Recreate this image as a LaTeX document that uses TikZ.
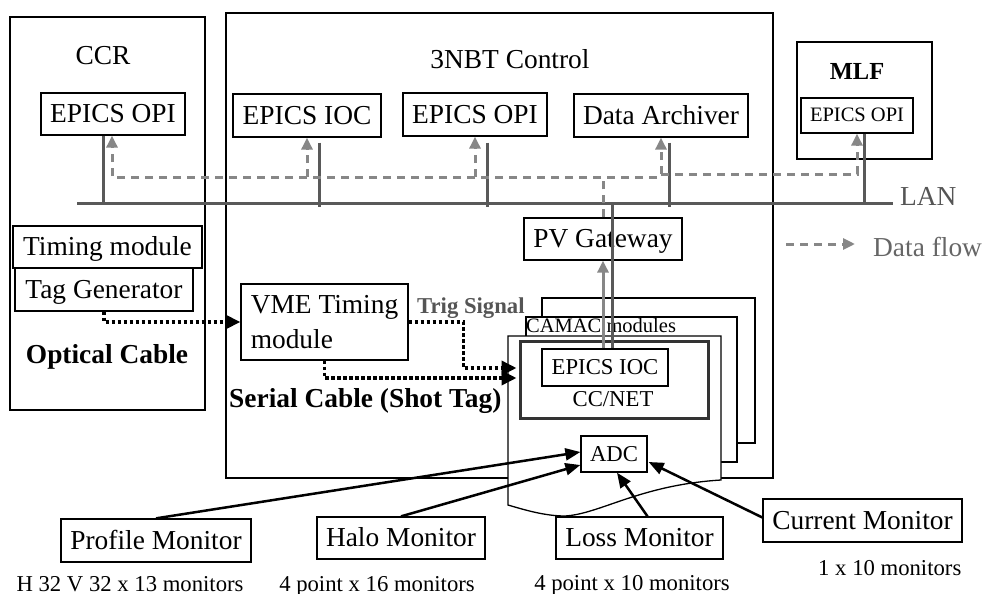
\documentclass[tikz,border=0pt]{standalone}
\usepackage{fontspec}
\setmainfont{Liberation Serif}
\usetikzlibrary{arrows.meta,calc}
\definecolor{wire}{HTML}{595959}
\definecolor{flowgray}{HTML}{878787}
\definecolor{labelgray}{HTML}{555555}
\newcommand\fbig{\fontsize{27.4pt}{33pt}\selectfont}
\newcommand\fmid{\fontsize{22.7pt}{27pt}\selectfont}
\newcommand\fsml{\fontsize{20.5pt}{24pt}\selectfont}
\newcommand\fmlf{\fontsize{24.5pt}{29pt}\selectfont}

\begin{document}
\begin{tikzpicture}[x=1pt,y=-1pt,
  frame/.style={draw, line width=1.3pt, inner sep=0pt},
  plainbox/.style={draw, line width=1.3pt, fill=white, inner sep=0pt, font=\fbig},
  box/.style={plainbox, text height=18pt, text depth=1pt},
  wireline/.style={draw=wire, line width=3pt},
  flow/.style={draw=flowgray, line width=3pt, dash pattern=on 8pt off 6pt},
  flowtip/.style={-{Triangle[length=12pt,width=11pt]}},
  cable/.style={draw=black, line width=3.5pt, dash pattern=on 3.5pt off 2.5pt,
    -{Triangle[length=15pt,width=14pt]}},
  feed/.style={draw=black, line width=2.5pt, -{Triangle[length=15pt,width=12pt]}},
  lbl/.style={inner sep=0pt, anchor=base}
]
\useasboundingbox (0,0) rectangle (985,594);

% rooms
\node[frame, minimum width=195pt, minimum height=393pt] (ccr) at (107.5,213.5) {};
\node[frame, minimum width=547pt, minimum height=465pt] (nbt) at (499.5,245.5) {};
\node[frame, minimum width=135pt, minimum height=117pt] (mlf) at (864.5,100.5) {};
\node[lbl, font=\fbig] (ccrT) at (103,64) {CCR};
\node[lbl, font=\fbig] (nbtT) at (510,68) {3NBT Control};
\node[lbl, font=\fmlf\bfseries] (mlfT) at (857,80) {MLF};

% LAN backbone
\coordinate (lanL) at (77,203);
\coordinate (lanR) at (893,203);
\draw[wireline] (lanL) -- (lanR);
\node[lbl, anchor=base west, font=\fbig, text=labelgray] (lanT) at (900,205) {LAN};

% hosts on the LAN
\node[box, minimum width=144pt, minimum height=42pt] (ccrOPI) at (113,114) {EPICS OPI};
\node[box, minimum width=148pt, minimum height=43pt] (ioc) at (307,115.5) {EPICS IOC};
\node[box, minimum width=144pt, minimum height=43pt] (opi) at (475,114.5) {EPICS OPI};
\node[box, minimum width=174pt, minimum height=43pt] (arch) at (661,115.5) {Data Archiver};
\node[box, font=\fsml, text height=13.5pt, minimum width=112pt, minimum height=35pt] (mlfOPI) at (857,115.5) {EPICS OPI};

\draw[wireline] ($(ccrOPI.south)+(-10,0)$) -- +(0,68);
\draw[wireline] ($(ioc.south)+(12,5)$) -- +(0,64);
\draw[wireline] ($(opi.south)+(12,6)$) -- +(0,64);
\draw[wireline] ($(arch.south)+(8,5)$) -- +(0,64);
\draw[wireline] ($(mlfOPI.south)+(7,0)$) -- +(0,70);

% gateway
\node[box, minimum width=158pt, minimum height=42pt] (pvgw) at (603,239) {PV Gateway};

% data flow paths
\coordinate (busL) at (112,177);
\coordinate (busM) at (657,177);
\coordinate (busR) at (661,174);
\coordinate (busE) at (857,174);
\draw[flow, flowtip] (busM) -- (busL) -- (busL |- ccrOPI.south);
\draw[flow, flowtip] (ioc.south |- busL) -- (ioc.south);
\draw[flow, flowtip] (opi.south |- busL) -- (opi.south);
\draw[flow, flowtip] (busR) -- (arch.south);
\draw[flow, flowtip] (busR) -- (busE) -- (mlfOPI.south);
\draw[flow] (pvgw.north) -- (pvgw.north |- busL);

% legend
\coordinate (legA) at (786,244);
\coordinate (legB) at (855,244);
\draw[flow, flowtip] (legA) -- (legB);
\node[lbl, anchor=base west, font=\fbig, text=black!60] (legT) at (873,256) {Data flow};

% timing system
\node[box, minimum width=189pt, minimum height=42pt] (timing) at (107.5,247) {Timing module};
\node[box, minimum width=178pt, minimum height=43pt] (tag) at (104,289.5) {Tag Generator};
\node[lbl, font=\fbig\bfseries] (optical) at (107,363) {Optical Cable};
\node[plainbox, align=left, font=\fontsize{27.4pt}{35pt}\selectfont,
      minimum width=167pt, minimum height=76pt] (vme) at (324.5,322) {VME Timing\\module};
\node[lbl, anchor=base west, font=\fmid\bfseries, text=labelgray] (trig) at (417,313) {Trig Signal};
\node[lbl, anchor=base west, font=\fbig\bfseries] (serial) at (229,407) {Serial Cable (Shot Tag)};

% CAMAC crate stack
\node[frame, fill=white, minimum width=213pt, minimum height=145pt] (camacC) at (648.5,370.5) {};
\node[frame, fill=white, minimum width=211pt, minimum height=145pt] (camacB) at (631.5,389.5) {};
\draw[frame, fill=white] (508,336) -- (721,336) -- (721,480)
  .. controls (640,485) and (600,514) .. (565,516)
  .. controls (545,516) and (525,510) .. (508,505) -- cycle;
\node[lbl, anchor=base west, font=\fsml] (camacT) at (526,332) {CAMAC modules};

\node[draw=black!80, line width=3pt, fill=white, inner sep=0pt,
      minimum width=188pt, minimum height=77pt] (ccnet) at (614,379.5) {};
\node[box, font=\fmid, text height=15pt, minimum width=126pt, minimum height=37pt] (ccIOC) at (605,367.5) {EPICS IOC};
\node[lbl, font=\fmid] (ccnetT) at (613,406) {CC/NET};
\node[box, font=\fmid, text height=15pt, minimum width=66pt, minimum height=36pt] (adc) at (614,454) {ADC};

% links between the crate controller and the gateway
\coordinate (tap) at (612,203);
\draw[wireline] (tap) -- (tap |- ccIOC.north);
\draw[draw=flowgray, line width=3pt, flowtip] (ccIOC.north -| pvgw.south) -- (pvgw.south);

% timing cables
\draw[cable] (tag.south) |- (vme.west);
\draw[cable] (vme.east) -- ($(vme.east)+(55,0)$) |- ($(ccnet.west)+(-2,-11.5)$);
\draw[cable] (vme.south) |- ($(ccnet.west)+(-2,-1.5)$);

% beam monitors
\node[box, minimum width=190pt, minimum height=43pt] (profile) at (156,540.5) {Profile Monitor};
\node[box, minimum width=168pt, minimum height=42pt] (halo) at (401,538) {Halo Monitor};
\node[box, minimum width=167pt, minimum height=42pt] (loss) at (639.5,538) {Loss Monitor};
\node[box, minimum width=199pt, minimum height=43pt] (current) at (862.5,520.5) {Current Monitor};

\draw[feed] (profile.north) -- ($(adc.west)+(0,-2)$);
\draw[feed] (halo.north) -- ($(adc.west)+(0,11)$);
\draw[feed] ($(loss.north)+(8,0)$) -- ($(adc.south)+(3,0)$);
\draw[feed] ($(current.west)+(0,-3)$) -- ($(adc.east)+(1,8)$);

\node[lbl, font=\fmid] (profN) at (130,591) {H 32 V 32 x 13 monitors};
\node[lbl, font=\fmid] (haloN) at (377,591) {4 point x 16 monitors};
\node[lbl, font=\fmid] (lossN) at (632,590) {4 point x 10 monitors};
\node[lbl, anchor=base west, font=\fmid] (curN) at (818,575) {1 x 10 monitors};
\end{tikzpicture}
\end{document}
